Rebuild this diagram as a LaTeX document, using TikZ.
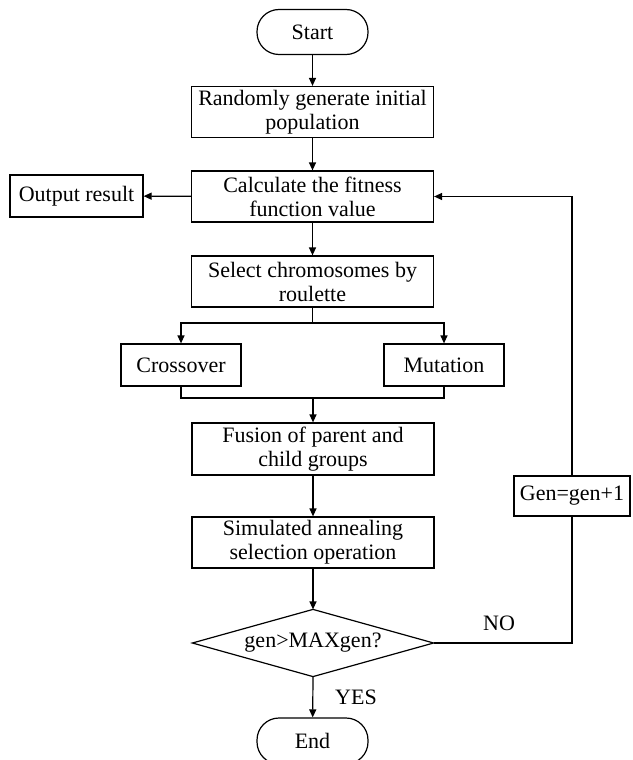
\documentclass[tikz,border=0pt]{standalone}
\usepackage{fontspec}
\setmainfont{Liberation Serif}
\usetikzlibrary{arrows.meta}
\begin{document}
\begin{tikzpicture}[x=1pt,y=-1pt,
  font=\fontsize{22}{24}\selectfont,
  line width=1.2pt,
  >={Triangle[length=8pt,width=7pt]},
  box/.style={draw,rectangle,align=center,inner sep=0pt,minimum height=51pt,minimum width=242pt},
  smallbox/.style={draw,rectangle,align=center,inner sep=0pt,minimum height=42pt},
  pill/.style={draw,rectangle,rounded corners=22pt,inner sep=0pt,minimum width=111pt,minimum height=45pt},
  lbl/.style={inner sep=0pt}]
\useasboundingbox (0,0) rectangle (632,760);

\node[pill] (start) at (312.5,32) {Start};
\node[box] (rand) at (312.5,112) {Randomly generate initial\\population};
\node[box] (calc) at (312.5,196.5) {Calculate the fitness\\function value};
\node[smallbox,minimum width=133pt] (out) at (76.5,196) {Output result};
\node[box] (sel) at (312.5,281.5) {Select chromosomes by\\roulette};
\node[smallbox,minimum width=120pt] (cross) at (181,365) {Crossover};
\node[smallbox,minimum width=120pt] (mut) at (444,365) {Mutation};
\node[box,minimum height=52pt] (fus) at (313,449) {Fusion of parent and\\child groups};
\node[box] (sim) at (313,542.5) {Simulated annealing\\selection operation};
\node[inner sep=0pt,minimum width=240pt,minimum height=66pt] (dia) at (313,643) {gen>MAXgen?};
\draw (dia.north) -- (dia.east) -- (dia.south) -- (dia.west) -- cycle;
\node[pill,minimum height=46pt] (end) at (312.5,741) {End};
\node[smallbox,minimum width=116pt,minimum height=40pt] (gen) at (572,496) {Gen=gen+1};

\node[lbl] (no) at (499,623) {NO};
\node[lbl] (yes) at (356,697) {YES};

\coordinate (split) at (312.5,323);
\coordinate (merge) at (313,398);
\coordinate (corner1) at (572,643);
\coordinate (corner2) at (572,196.5);

\draw[->] (start) -- (rand);
\draw[->] (rand) -- (calc);
\draw[->] (calc) -- (out);
\draw[->] (calc) -- (sel);
\draw (sel.south) -- (split);
\draw[->] (split) -| (cross.north);
\draw[->] (split) -| (mut.north);
\draw (cross.south) |- (merge);
\draw (mut.south) |- (merge);
\draw[->] (merge) -- (fus.north);
\draw[->] (fus) -- (sim);
\draw[->] (sim) -- (dia.north);
\draw[->] (dia.south) -- (end);
\draw (dia.east) -- (corner1) -- (gen.south);
\draw[->] (gen.north) -- (corner2) -- (calc.east);
\end{tikzpicture}
\end{document}
